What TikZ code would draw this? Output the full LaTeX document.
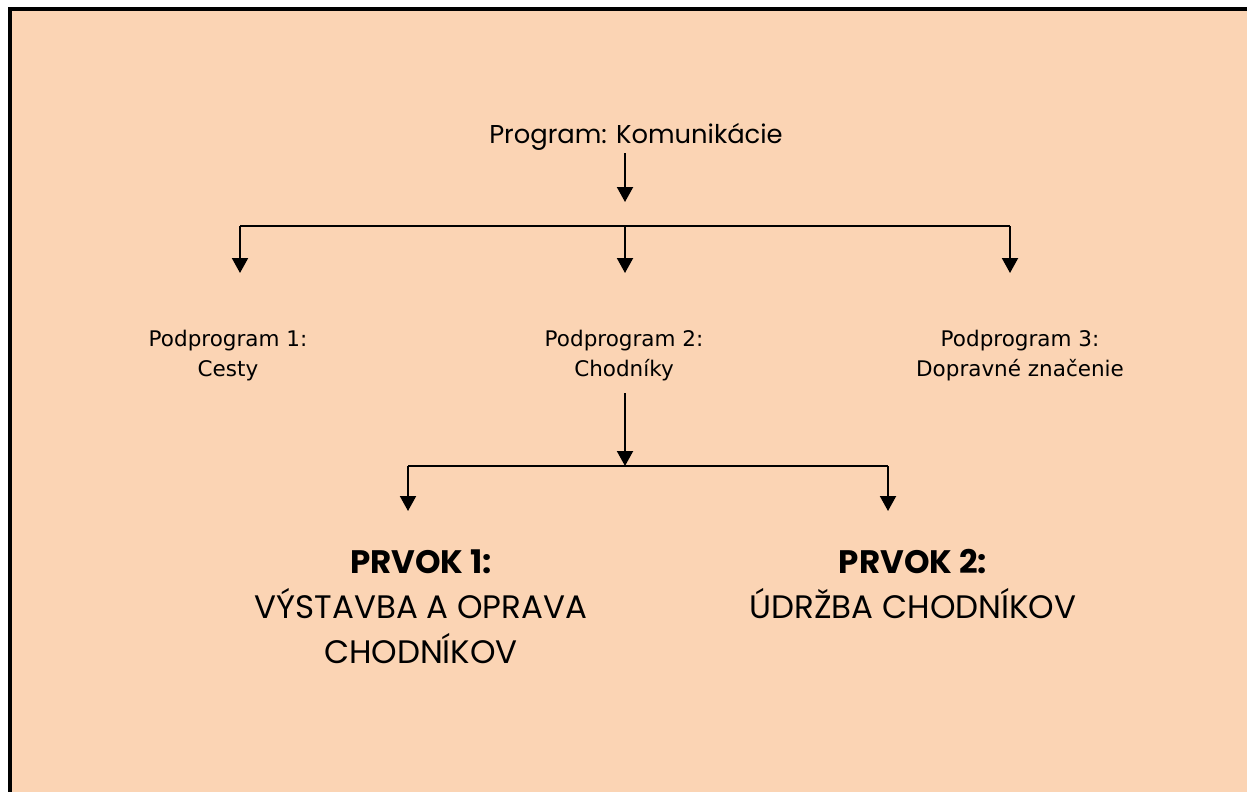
\documentclass[tikz,border=0pt]{standalone}
\usepackage{fontspec}
\setmainfont{DejaVu Sans}
\newfontfamily\gothicfont{Poppins}
\usepackage{tikz}
\usetikzlibrary{arrows.meta}
\definecolor{peach}{HTML}{FBD4B4}
\tikzset{
    flow-line/.style = {draw=black, line width=2pt},
    flow-arrow/.style = {flow-line, -{Triangle[width=16pt,length=15pt]}},
    program-title/.style = {font=\gothicfont\fontsize{25.8}{30}\selectfont, anchor=base},
    subprogram-title/.style = {font=\fontsize{21.5}{30}\selectfont, align=center, anchor=base},
    element-title/.style = {font=\gothicfont\fontsize{32.5}{45}\selectfont, align=center, anchor=base},
}

\begin{document}
\begin{tikzpicture}[x=1pt,y=-1pt]
\useasboundingbox (0,0) rectangle (1247,792);
\fill[white] (0,0) rectangle (1247,792);
\fill[black] (8,7) rectangle (1247,792);
\fill[peach] (12,11) rectangle (1247,792);

% base anchor sits on the last line
\node[program-title] (prog) at (636,143) {Program: Komunikácie};

\node[subprogram-title] (sub1) at (228,376) {Podprogram 1:\\Cesty};
\node[subprogram-title] (sub2) at (624,376) {Podprogram 2:\\Chodníky};
\node[subprogram-title] (sub3) at (1020,376) {Podprogram 3:\\Dopravné značenie};

\node[element-title] (elem1) at (421,663) {\textbf{PRVOK 1:}\\VÝSTAVBA A OPRAVA\\CHODNÍKOV};
\node[element-title] (elem2) at (913,618) {\textbf{PRVOK 2:}\\ÚDRŽBA CHODNÍKOV};

% program -> subprograms
\coordinate (hub-a) at (625,226);
\coordinate (hub-a-in) at (625,202);
\coordinate (sub1-in) at (240,273);
\coordinate (sub2-in) at (625,273);
\coordinate (sub3-in) at (1010,273);
\draw[flow-arrow] (625,153) -- (hub-a-in);
\draw[flow-line] (sub1-in |- hub-a) -- (sub3-in |- hub-a);
\foreach \s in {sub1,sub2,sub3}
    \draw[flow-arrow] (\s-in |- hub-a) -- (\s-in);

% subprogram 2 -> elements
\coordinate (hub-b) at (625,466);
\coordinate (elem1-in) at (408,511);
\coordinate (elem2-in) at (888,511);
\draw[flow-arrow] (hub-b |- 0,393) -- (hub-b);
\draw[flow-line] (elem1-in |- hub-b) -- (elem2-in |- hub-b);
\foreach \e in {elem1,elem2}
    \draw[flow-arrow] (\e-in |- hub-b) -- (\e-in);
\end{tikzpicture}
\end{document}
